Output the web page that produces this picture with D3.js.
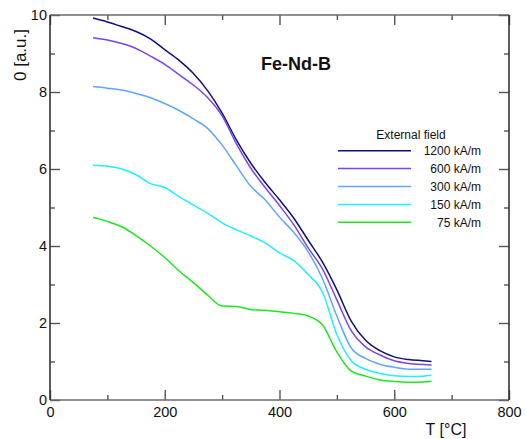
<!DOCTYPE html>
<html><head><meta charset="utf-8">
<script src="https://cdn.jsdelivr.net/npm/d3@7"></script>
<style>body{margin:0;background:#fff}svg{display:block;font-family:"Liberation Sans",Arial,sans-serif}</style>
</head><body><svg id="c" width="526" height="439"></svg>
<script>
const temps = [75,100,125,150,175,200,225,250,275,300,325,350,375,400,425,450,475,500,525,550,575,600,625,650,665];
const s1200 = [9.92,9.82,9.70,9.57,9.38,9.10,8.82,8.48,8.03,7.45,6.75,6.15,5.65,5.20,4.72,4.15,3.58,2.86,2.05,1.55,1.28,1.12,1.05,1.02,1.00];
const s600  = [9.41,9.35,9.26,9.13,8.93,8.72,8.45,8.18,7.85,7.38,6.65,6.02,5.52,5.05,4.55,3.95,3.40,2.60,1.80,1.38,1.17,1.02,0.95,0.92,0.91];
const s300  = [8.14,8.10,8.05,7.96,7.85,7.70,7.52,7.30,7.05,6.62,6.08,5.55,5.20,4.75,4.35,3.85,3.15,2.18,1.35,1.08,0.93,0.85,0.80,0.80,0.80];
const s150  = [6.10,6.07,6.00,5.85,5.62,5.52,5.28,5.06,4.85,4.60,4.42,4.26,4.08,3.82,3.62,3.26,2.80,1.70,1.02,0.80,0.69,0.63,0.61,0.62,0.64];
const s75   = [4.74,4.64,4.50,4.27,4.00,3.70,3.35,3.05,2.72,2.44,2.43,2.35,2.33,2.29,2.25,2.18,1.95,1.25,0.75,0.62,0.52,0.48,0.46,0.47,0.49];
const seriesNames = ["1200 kA/m","600 kA/m","300 kA/m","150 kA/m","75 kA/m"];
const seriesValues = [s1200,s600,s300,s150,s75];
const colors = ["#10107e","#7a44f0","#5fa6ff","#1ef0ff","#1ee81e"];
const xMajor = [0,200,400,600,800], xMinor = [100,300,500,700];
const yMajor = [0,2,4,6,8,10], yMinor = [1,3,5,7,9];

const svg = d3.select("#c");
const L=50,R=509,T=15,B=400;
const x = d3.scaleLinear().domain([0,800]).range([L,R]);
const y = d3.scaleLinear().domain([0,10]).range([B,T]);

function axis(gen, tx, ty, vals, size, labels){
  const g = svg.append("g").attr("transform",`translate(${tx},${ty})`)
    .call(gen.tickValues(vals).tickSize(-size).tickSizeOuter(0).tickFormat(labels?d3.format("d"):""));
  g.select(".domain").remove();
  g.selectAll(".tick line").attr("stroke","#555").attr("stroke-width",1.4);
  g.selectAll("text").attr("fill","#111").style("font-size","14.5px").style("font-family","Liberation Sans, Arial, sans-serif");
  return g;
}
const xb = axis(d3.axisBottom(x), 0, B, xMajor, 10, true);
xb.selectAll("text").attr("dy","0.71em").attr("y",7);
axis(d3.axisBottom(x), 0, B, xMinor, 5, false);
axis(d3.axisTop(x), 0, T, xMajor, 10, false);
axis(d3.axisTop(x), 0, T, xMinor, 5, false);
const yl = axis(d3.axisLeft(y), L, 0, yMajor, 10, true);
yl.selectAll("text").attr("x",-3);
axis(d3.axisLeft(y), L, 0, yMinor, 5, false);
axis(d3.axisRight(y), R, 0, yMajor, 10, false);
axis(d3.axisRight(y), R, 0, yMinor, 5, false);

// frame
svg.append("line").attr("x1",L).attr("x2",R).attr("y1",B).attr("y2",B).attr("stroke","#6a6a6a").attr("stroke-width",1.6);
svg.append("line").attr("x1",L).attr("x2",R).attr("y1",T).attr("y2",T).attr("stroke","#6a6a6a").attr("stroke-width",1.6);
svg.append("line").attr("x1",L).attr("x2",L).attr("y1",T).attr("y2",B).attr("stroke","#333").attr("stroke-width",1.6);
svg.append("line").attr("x1",R).attr("x2",R).attr("y1",T).attr("y2",B).attr("stroke","#333").attr("stroke-width",1.6);

const line = d3.line().x((d,i)=>x(temps[i])).y(d=>y(d)).curve(d3.curveMonotoneX);
seriesValues.forEach((vals,k)=>{
  svg.append("path").datum(vals).attr("d",line).attr("fill","none")
    .attr("stroke",colors[k]).attr("stroke-width",1.5);
});

// title
svg.append("text").attr("x",296).attr("y",70).attr("text-anchor","middle")
  .style("font-size","18px").style("font-weight","bold").attr("fill","#111").text("Fe-Nd-B");

// legend
svg.append("text").attr("x",411).attr("y",139).attr("text-anchor","middle")
  .style("font-size","12px").attr("fill","#111").text("External field");
seriesNames.forEach((n,k)=>{
  const yy = 150.7 + k*17.9;
  svg.append("line").attr("x1",338).attr("x2",411).attr("y1",yy).attr("y2",yy)
    .attr("stroke",colors[k]).attr("stroke-width",1.5);
  svg.append("text").attr("x",481).attr("y",yy+4.5).attr("text-anchor","end")
    .style("font-size","12px").attr("fill","#111").text(n);
});

// axis titles
svg.append("text").attr("x",446).attr("y",435).attr("text-anchor","middle")
  .style("font-size","16px").attr("fill","#111").text("T [°C]");
svg.append("text").attr("transform","translate(26,55) rotate(-90)").attr("text-anchor","middle")
  .style("font-size","17px").attr("fill","#111").text("0 [a.u.]");
</script></body></html>
